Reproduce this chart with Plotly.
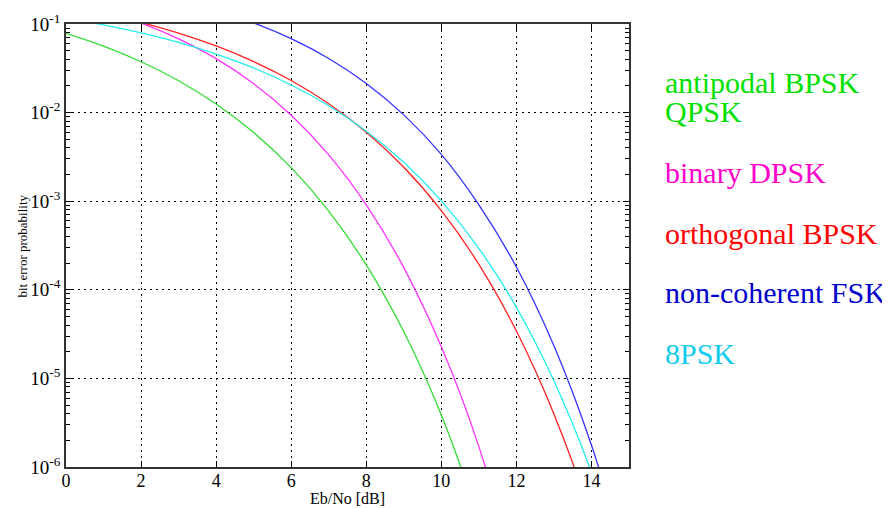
import plotly.graph_objects as go

# Eb/No in dB
ebno_db = [0, 1, 2, 3, 4, 5, 6, 7, 8, 9, 10, 11, 12, 13, 14, 15]

# bit error probability
ber_bpsk = [0.0786, 0.0563, 0.0375, 0.0229, 0.0125, 0.00595, 0.00239, 7.73e-4,
            1.91e-4, 3.36e-5, 3.87e-6, 2.6e-7, None, None, None, None]
ber_dpsk = [0.184, 0.142, 0.1025, 0.0680, 0.0406, 0.0212, 0.00933, 0.00333,
            9.09e-4, 1.78e-4, 2.27e-5, 1.70e-6, 5.6e-8, None, None, None]
ber_orth = [0.1587, 0.1309, 0.1040, 0.0789, 0.0565, 0.0377, 0.0230, 0.01258,
            0.0060, 0.00242, 7.83e-4, 1.94e-4, 3.43e-5, 3.97e-6, 2.69e-7, 9.0e-9]
ber_ncfsk = [0.303, 0.266, 0.226, 0.184, 0.1424, 0.1029, 0.0683, 0.0408,
             0.02132, 0.00942, 0.00337, 9.09e-4, 1.81e-4, 2.33e-5, 1.76e-6, 6.9e-8]
ber_8psk = [0.116, 0.0977, 0.0793, 0.0619, 0.0458, 0.0319, 0.0205, 0.01195,
            0.00617, 0.00275, 0.00101, 2.94e-4, 6.34e-5, 9.4e-6, 8.7e-7, 4.4e-8]

labels = ["antipodal BPSK", "QPSK", "binary DPSK", "orthogonal BPSK",
          "non-coherent FSK", "8PSK"]
line_colors = ["#33dd33", "#ff33ff", "#ff2222", "#3333ff", "#22eeee"]
label_colors = ["#00e000", "#00e000", "#ff00cc", "#ff0000", "#0000cc", "#11ccee"]
# baselines (page pixels) of the label texts
label_base = [92, 122, 182, 243, 302, 363]

y_tickvals = [1e-6, 1e-5, 1e-4, 1e-3, 1e-2, 1e-1]
y_ticktext = ["10<sup>-6</sup>", "10<sup>-5</sup>", "10<sup>-4</sup>",
              "10<sup>-3</sup>", "10<sup>-2</sup>", "10<sup>-1</sup>"]
x_tickvals = [0, 2, 4, 6, 8, 10, 12, 14]
y_minor = [m * 10.0 ** e for e in range(-6, -1) for m in range(2, 10)]

series = [ber_bpsk, ber_dpsk, ber_orth, ber_ncfsk, ber_8psk]

# page has an 8px body margin, so work in figure coordinates
OFF = 8
W, H = 890 - OFF, 508 - OFF
L, R, T, B = 66 - OFF, 629 - OFF, 24 - OFF, 467 - OFF
serif = "Liberation Serif, Times New Roman, DejaVu Serif, serif"


def px(xp):
    return (xp - OFF - L) / (R - L)


def py(yp):
    return 1 - (yp - OFF - T) / (B - T)


fig = go.Figure()
for ys, c in zip(series, line_colors):
    fig.add_trace(go.Scatter(x=ebno_db, y=ys, mode="lines",
                             line=dict(color=c, width=1.3, shape="spline"),
                             showlegend=False))

for n, c, yb in zip(labels, label_colors, label_base):
    fig.add_annotation(text=n, xref="paper", yref="paper",
                       x=px(663), y=py(yb - 10),
                       xanchor="left", yanchor="middle", showarrow=False,
                       font=dict(family=serif, size=30, color=c))

fig.add_annotation(text="bit error probability", xref="paper", yref="paper",
                   x=px(22), y=0.5, textangle=-90,
                   xanchor="center", yanchor="middle", showarrow=False,
                   font=dict(family=serif, size=13, color="black"))
fig.add_annotation(text="Eb/No [dB]", xref="paper", yref="paper",
                   x=0.5, y=py(498),
                   xanchor="center", yanchor="middle", showarrow=False,
                   font=dict(family=serif, size=16, color="black"))

grid_dash = "2px,4px"
fig.update_layout(
    width=W, height=H,
    margin=dict(l=L, r=W - R, t=T, b=H - B, autoexpand=False),
    paper_bgcolor="white", plot_bgcolor="white",
    xaxis=dict(range=[0, 15], tickvals=x_tickvals, ticks="inside", ticklen=6,
               tickcolor="black", mirror="ticks", showline=True,
               linecolor="#333", linewidth=1.5, showgrid=True,
               gridcolor="black", griddash=grid_dash, gridwidth=1,
               zeroline=False, automargin=False, ticklabelstandoff=-3,
               tickfont=dict(family=serif, size=18, color="black")),
    yaxis=dict(type="log", range=[-6, -1], tickvals=y_tickvals,
               ticktext=y_ticktext, ticks="inside", ticklen=6,
               tickcolor="black", mirror="ticks", showline=True,
               linecolor="#333", linewidth=1.5, showgrid=True,
               gridcolor="black", griddash=grid_dash, gridwidth=1,
               zeroline=False, automargin=False,
               minor=dict(tickvals=y_minor, ticks="inside", ticklen=4,
                          tickcolor="black", showgrid=False),
               tickfont=dict(family=serif, size=19, color="black")),
)

fig.write_html("out.html")
